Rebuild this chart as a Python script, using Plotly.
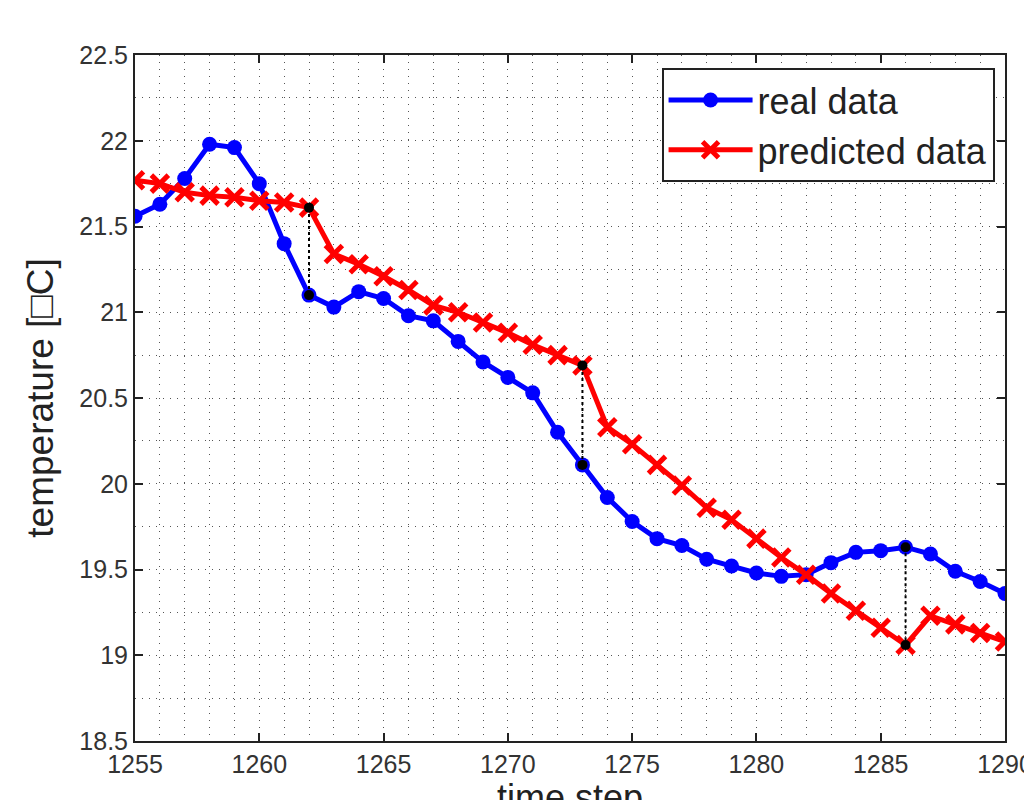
import plotly.graph_objects as go

time_steps = list(range(1255, 1291))
real_data = [21.56, 21.63, 21.78, 21.98, 21.96, 21.75, 21.40, 21.10, 21.03, 21.12,
             21.08, 20.98, 20.95, 20.83, 20.71, 20.62, 20.53, 20.30, 20.11, 19.92,
             19.78, 19.68, 19.64, 19.56, 19.52, 19.48, 19.46, 19.47, 19.54, 19.60,
             19.61, 19.63, 19.59, 19.49, 19.43, 19.36]
predicted_data = [21.77, 21.75, 21.70, 21.68, 21.67, 21.65, 21.64, 21.61, 21.34, 21.28,
                  21.21, 21.13, 21.04, 21.00, 20.94, 20.88, 20.81, 20.75, 20.69, 20.33,
                  20.23, 20.11, 19.99, 19.86, 19.79, 19.68, 19.57, 19.47, 19.36, 19.26,
                  19.16, 19.06, 19.23, 19.18, 19.13, 19.08]
highlight_steps = [1262, 1273, 1286]

x_ticks = [1255, 1260, 1265, 1270, 1275, 1280, 1285, 1290]
y_ticks = [18.5, 19, 19.5, 20, 20.5, 21, 21.5, 22, 22.5]

FONT = "Liberation Sans, Arial, sans-serif"

fig = go.Figure()

fig.add_trace(go.Scatter(
    x=time_steps, y=real_data, name="real data", mode="lines+markers",
    line=dict(color="#0000ff", width=5),
    marker=dict(symbol="circle", size=15, color="#0000ff"),
))
fig.add_trace(go.Scatter(
    x=time_steps, y=predicted_data, name="predicted data", mode="lines+markers",
    line=dict(color="#ff0000", width=5),
    marker=dict(symbol="x-thin-open", size=17, color="#ff0000",
                line=dict(color="#ff0000", width=5)),
))

hx, hy = [], []
for t in highlight_steps:
    i = time_steps.index(t)
    fig.add_trace(go.Scatter(
        x=[t, t], y=[real_data[i], predicted_data[i]], mode="lines",
        line=dict(color="black", width=2, dash="dot"), showlegend=False,
        hoverinfo="skip"))
    hx += [t, t]
    hy += [real_data[i], predicted_data[i]]
fig.add_trace(go.Scatter(
    x=hx, y=hy, mode="markers", showlegend=False,
    marker=dict(symbol="circle", size=10, color="black")))

grid = dict(gridcolor="#555555", griddash="1px,6px", gridwidth=1.2)

fig.update_layout(
    width=1032, height=800,
    margin=dict(l=127, r=35, t=47, b=67),
    paper_bgcolor="white", plot_bgcolor="white",
    font=dict(family=FONT, color="#333333"),
    showlegend=True,
    legend=dict(
        x=0.988, y=0.981, xanchor="right", yanchor="top",
        bgcolor="white", bordercolor="#222222", borderwidth=2,
        font=dict(size=36, color="#222222", family=FONT),
        tracegroupgap=0, itemwidth=84,
    ),
    xaxis=dict(
        range=[1255, 1290], tickvals=x_ticks, ticktext=[str(v) for v in x_ticks],
        showline=True, linecolor="#222222", linewidth=2, mirror="ticks",
        ticks="inside", ticklen=8, tickcolor="#222222", tickwidth=1.5,
        tickfont=dict(size=25, color="#333333"),
        showgrid=True, **grid, zeroline=False,
        minor=dict(dtick=1, tick0=1255, showgrid=True, gridcolor="#555555",
                   griddash="1px,6px", gridwidth=1.2, ticklen=0),
        automargin=False,
    ),
    yaxis=dict(
        range=[18.5, 22.5], tickvals=y_ticks, ticktext=[f"{v:g}" for v in y_ticks],
        showline=True, linecolor="#222222", linewidth=2, mirror="ticks",
        ticks="inside", ticklen=8, tickcolor="#222222", tickwidth=1.5,
        tickfont=dict(size=25, color="#333333"),
        showgrid=True, **grid, zeroline=False,
        minor=dict(dtick=0.25, tick0=18.5, showgrid=True, gridcolor="#555555",
                   griddash="1px,6px", gridwidth=1.2, ticklen=0),
        title=dict(text="temperature [□C]", font=dict(size=37, color="#222222"), standoff=14),
        automargin=False,
    ),
    annotations=[dict(
        text="time step", xref="paper", yref="paper", x=0.5, y=-0.049,
        xanchor="center", yanchor="top", showarrow=False,
        font=dict(size=36, color="#222222", family=FONT),
    )],
)

fig.write_html("out.html")
